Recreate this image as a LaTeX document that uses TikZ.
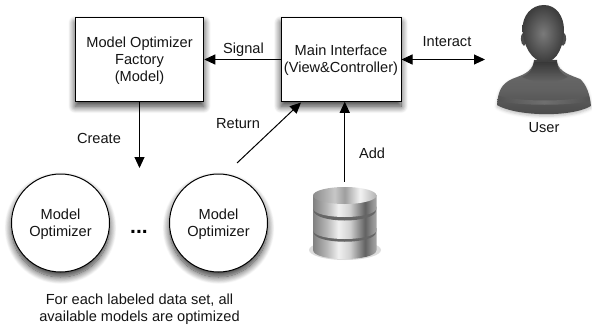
\documentclass[tikz,border=0pt]{standalone}
\usepackage{fontspec}
\setmainfont{Liberation Sans}
\usetikzlibrary{arrows.meta,shadows.blur}
\definecolor{txt}{gray}{0.08}
\pgfdeclarehorizontalshading{metal}{100bp}{color(0bp)=(black!50);color(25bp)=(black!50);color(36bp)=(black!28);color(45bp)=(black!6);color(54bp)=(black!18);color(66bp)=(black!62);color(72bp)=(black!42);color(75bp)=(black!35);color(100bp)=(black!35)}
\pgfdeclarehorizontalshading{metaltop}{100bp}{color(0bp)=(black!45);color(25bp)=(black!45);color(42bp)=(black!22);color(50bp)=(black!38);color(62bp)=(black!5);color(75bp)=(black!30);color(100bp)=(black!30)}
\tikzset{
  lbl/.style={font=\fontsize{14.6}{17}\selectfont,text=txt,align=center,inner sep=0pt},
  soft/.style={blur shadow={shadow xshift=0pt,shadow yshift=-5pt,shadow blur radius=7pt,shadow blur steps=12,shadow opacity=80}},
  boxn/.style={draw=black,line width=1pt,fill=white,minimum width=128.5pt,minimum height=83.5pt,lbl,soft},
  circ/.style={draw=black,line width=1pt,fill=white,circle,minimum size=98pt,lbl,soft},
  conn/.style={draw=black,line width=1pt,-{Triangle[length=11pt,width=10pt]}},
  conn2/.style={draw=black,line width=1pt,{Triangle[length=11pt,width=10pt]}-{Triangle[length=11pt,width=10pt]}},
  disc/.style={shading=metal},
  discrim/.style={fill=black!60},
}
\newcommand{\discside}[2]{(313,#1) -- (376.5,#1) -- (376.5,#2) .. controls (376.5,#2+12) and (313,#2+12) .. (313,#2) -- cycle}
\begin{document}
\begin{tikzpicture}[x=1pt,y=-1pt]
\useasboundingbox (0,0) rectangle (592,329);
\node[boxn] (factory) at (139.5,59.5) {};
\node[lbl] (ftext) at (139.5,60.5) {Model Optimizer\\Factory\\(Model)};
\node[boxn,minimum width=120pt] (main) at (341,59.5) {};
\node[lbl] (mtext) at (341,60) {Main Interface\\(View\&Controller)};
\node[circ] (o1) at (60.5,223) {};
\node[lbl] (o1text) at (60.5,224) {Model\\Optimizer};
\node[circ] (o2) at (218.5,223) {};
\node[lbl] (o2text) at (218.5,224) {Model\\Optimizer};
\node[font=\fontsize{21}{21}\selectfont\bfseries,inner sep=0pt] (dots) at (139,232) {...};
\node[lbl] (note) at (139.5,309.5) {For each labeled data set, all\\available models are optimized};
% user: shoulders
\path[top color=black!58,bottom color=black!72,middle color=black!62,blur shadow={shadow xshift=0pt,shadow yshift=-2pt,shadow blur radius=3pt,shadow opacity=25}]
 (497,105) .. controls (498,92) and (501,84) .. (512,79)
 .. controls (522,75) and (531,73) .. (534,62)
 -- (557,62)
 .. controls (559,72) and (570,75) .. (580,79)
 .. controls (586,84) and (590,94) .. (591,106)
 .. controls (570,118) and (515,116) .. (497,105) -- cycle;
% user: chest highlight and neck shadow
\path[top color=black!82,bottom color=black!58,opacity=.9]
 (534,60) -- (557,60) .. controls (557,70) and (562,74) .. (568,77)
 .. controls (556,84) and (536,84) .. (522,77) .. controls (529,74) and (533,70) .. (534,60) -- cycle;
\path[left color=black!68,right color=black!68,middle color=black!52,opacity=.7]
 (499,96) .. controls (520,102) and (570,102) .. (589,96) -- (590,101) .. controls (570,106) and (520,106) .. (498,101) -- cycle;
% user: ears
\fill[black!70] (523,33) .. controls (520,34) and (520,44) .. (524,46) -- (528,40) -- cycle;
\fill[black!70] (564,33) .. controls (567,34) and (567,44) .. (563,46) -- (559,40) -- cycle;
% user: head
\path[inner color=black!52,outer color=black!76]
 (544,5) .. controls (556,5) and (564,16) .. (564,30)
 .. controls (564,44) and (558,62) .. (545,62)
 .. controls (531,62) and (523,44) .. (522.5,30)
 .. controls (522,16) and (531,5) .. (544,5) -- cycle;
\node[inner sep=0pt,minimum width=94pt,minimum height=110pt] (person) at (544,60) {};
\node[lbl] (user) at (544,127.5) {User};
% database
\fill[black!30,opacity=.45] (345,250) ellipse (36pt and 10pt);
\path[disc] \discside{228}{250};
\fill[discrim] (313.5,232) .. controls (313.5,245) and (376,245) .. (376,232) -- (376,228) -- (313.5,228) -- cycle;
\path[disc] \discside{207}{230};
\fill[discrim] (313.5,210) .. controls (313.5,224) and (376,224) .. (376,210) -- (376,206) -- (313.5,206) -- cycle;
\path[disc] \discside{195}{208};
\path[shading=metaltop] (344.75,195.5) ellipse (31.75pt and 8.5pt);
\node[inner sep=0pt,minimum width=64pt,minimum height=78pt] (db) at (344.75,221) {};
% connectors
\coordinate (uside) at (485,59.5);
\coordinate (create) at (139.5,168);
\coordinate (ret) at (237,163);
\coordinate (rettip) at (301,102.5);
\draw[conn] (main.west) -- (factory.east);
\draw[conn] (factory.south) -- (create);
\draw[conn] (ret) -- (rettip);
\draw[conn] (db.north) -- (main.south -| db.north);
\draw[conn2] (main.east) -- (uside);
\node[lbl] (lsignal) at (243.5,50) {Signal};
\node[lbl] (lcreate) at (99,138) {Create};
\node[lbl] (lreturn) at (238,124) {Return};
\node[lbl] (ladd) at (372,153) {Add};
\node[lbl] (linter) at (447,42) {Interact};
\end{tikzpicture}
\end{document}
